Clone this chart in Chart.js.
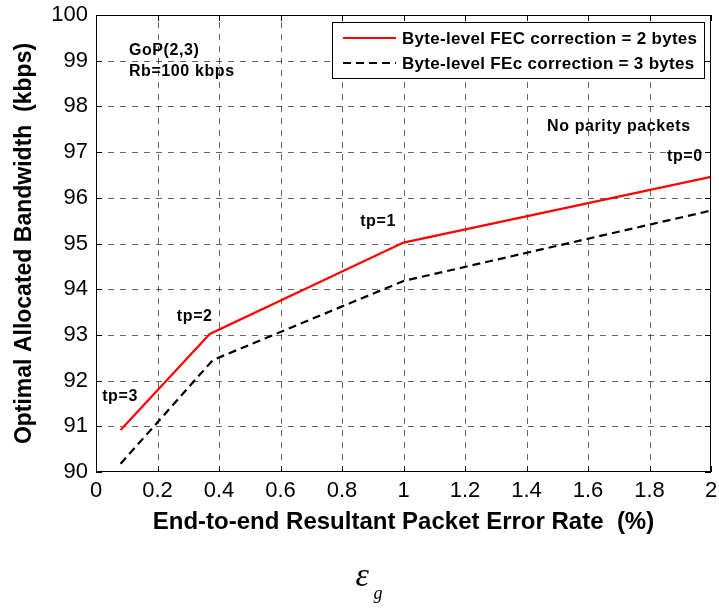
<!DOCTYPE html>
<html>
<head>
<meta charset="utf-8">
<script src="https://cdn.jsdelivr.net/npm/chart.js@4.4.1/dist/chart.umd.min.js"></script>
<style>
  html, body { margin: 0; padding: 0; background: #fff; }
  canvas { display: block; }
</style>
</head>
<body>
<canvas id="chart" width="719" height="608"></canvas>
<script>
// tick labels
const xTicks = [0, 0.2, 0.4, 0.6, 0.8, 1, 1.2, 1.4, 1.6, 1.8, 2];
const yTicks = [90, 91, 92, 93, 94, 95, 96, 97, 98, 99, 100];

// series
const xFec2 = [0.08, 0.37, 1, 2];
const yFec2 = [90.92, 93.02, 95.02, 96.46];
const xFec3 = [0.08, 0.38, 1, 2];
const yFec3 = [90.18, 92.45, 94.18, 95.72];

const seriesLabels = ['Byte-level FEC correction = 2 bytes', 'Byte-level FEc correction = 3 bytes'];

// text notes inside the axes, anchored at data coords (left edge, vertical middle)
const notes = [
  { text: 'GoP(2,3)', x: 0.107, y: 99.23 },
  { text: 'Rb=100 kbps', x: 0.107, y: 98.76 },
  { text: 'No parity packets', x: 1.467, y: 97.55 },
  { text: 'tp=0', x: 1.857, y: 96.91 },
  { text: 'tp=1', x: 0.859, y: 95.47 },
  { text: 'tp=2', x: 0.263, y: 93.40 },
  { text: 'tp=3', x: 0.02, y: 91.66 }
];

const toPoints = (xs, ys) => xs.map((x, i) => ({ x: x, y: ys[i] }));

const SANS = '"Liberation Sans", Arial, Helvetica, sans-serif';

const framePlugin = {
  id: 'frame',
  beforeDatasetsDraw(chart) {
    // dashed grid, matlab style
    const { ctx, chartArea: a, scales } = chart;
    ctx.save();
    ctx.strokeStyle = 'rgba(0,0,0,0.6)';
    ctx.lineWidth = 1;
    ctx.setLineDash([6, 6]);
    ctx.beginPath();
    xTicks.slice(1, -1).forEach(v => {
      const px = Math.round(scales.x.getPixelForValue(v)) + 0.5;
      ctx.moveTo(px, a.bottom); ctx.lineTo(px, a.top);
    });
    yTicks.slice(1, -1).forEach(v => {
      const py = Math.round(scales.y.getPixelForValue(v)) + 0.5;
      ctx.moveTo(a.left, py); ctx.lineTo(a.right, py);
    });
    ctx.stroke();
    ctx.restore();
  },
  afterDatasetsDraw(chart) {
    const { ctx, chartArea: a, scales } = chart;
    ctx.save();
    ctx.strokeStyle = '#000';
    ctx.lineWidth = 1;
    ctx.setLineDash([]);
    ctx.strokeRect(a.left + 0.5, a.top + 0.5, a.right - a.left - 1, a.bottom - a.top - 1);
    // inward ticks on all four sides
    const tl = 6;
    ctx.beginPath();
    xTicks.forEach(v => {
      const px = Math.round(scales.x.getPixelForValue(v)) + 0.5;
      ctx.moveTo(px, a.bottom); ctx.lineTo(px, a.bottom - tl);
      ctx.moveTo(px, a.top); ctx.lineTo(px, a.top + tl);
    });
    yTicks.forEach(v => {
      const py = Math.round(scales.y.getPixelForValue(v)) + 0.5;
      ctx.moveTo(a.left, py); ctx.lineTo(a.left + tl, py);
      ctx.moveTo(a.right, py); ctx.lineTo(a.right - tl, py);
    });
    ctx.stroke();
    ctx.restore();
  },
  afterDraw(chart) {
    const { ctx, chartArea: a, scales } = chart;
    ctx.save();
    ctx.fillStyle = '#000';
    ctx.textBaseline = 'middle';
    ctx.textAlign = 'left';
    ctx.font = 'bold 16px ' + SANS;
    ctx.letterSpacing = '0.6px';
    notes.forEach(n => {
      ctx.fillText(n.text, scales.x.getPixelForValue(n.x), scales.y.getPixelForValue(n.y));
    });

    // legend box (top right)
    const bw = 372, bh = 56;
    const bx = a.right - 7 - bw, by = a.top + 7;
    ctx.fillStyle = '#fff';
    ctx.fillRect(bx, by, bw, bh);
    ctx.strokeStyle = '#000';
    ctx.lineWidth = 1;
    ctx.strokeRect(bx + 0.5, by + 0.5, bw, bh);
    ctx.font = 'bold 17px ' + SANS;
    ctx.letterSpacing = '0.3px';
    chart.data.datasets.forEach((ds, i) => {
      const ly = by + 16 + i * 25;
      ctx.strokeStyle = ds.borderColor;
      ctx.lineWidth = ds.borderWidth;
      ctx.setLineDash(ds.borderDash || []);
      ctx.beginPath();
      ctx.moveTo(bx + 11, ly); ctx.lineTo(bx + 64, ly);
      ctx.stroke();
      ctx.setLineDash([]);
      ctx.fillStyle = '#000';
      ctx.fillText(ds.label, bx + 70, ly + 1);
    });

    // symbol under the x axis title
    ctx.letterSpacing = '0px';
    const ex = scales.x.getPixelForValue(1) - 48;
    ctx.font = 'italic 34px "Liberation Serif", "DejaVu Serif", serif';
    ctx.fillText('\u03B5', ex, 577);
    ctx.font = 'italic 18px "Liberation Serif", "DejaVu Serif", serif';
    ctx.fillText('g', ex + 18, 594);
    ctx.restore();
  }
};

new Chart(document.getElementById('chart'), {
  type: 'line',
  data: {
    datasets: [
      {
        label: seriesLabels[0],
        data: toPoints(xFec2, yFec2),
        borderColor: '#ff0000',
        borderWidth: 2.2,
        pointRadius: 0,
        fill: false,
        tension: 0
      },
      {
        label: seriesLabels[1],
        data: toPoints(xFec3, yFec3),
        borderColor: '#000000',
        borderWidth: 2.2,
        borderDash: [8, 5],
        pointRadius: 0,
        fill: false,
        tension: 0
      }
    ]
  },
  options: {
    responsive: false,
    animation: false,
    layout: { padding: { top: 15, right: 8, left: 0, bottom: 0 } },
    plugins: { legend: { display: false }, tooltip: { enabled: false } },
    scales: {
      x: {
        type: 'linear',
        min: 0,
        max: 2,
        afterBuildTicks: s => { s.ticks = xTicks.map(v => ({ value: v })); },
        afterFit: s => { s.height = 136; s.paddingLeft = 0; s.paddingRight = 0; },
        ticks: {
          color: '#000',
          font: { family: SANS, size: 22 },
          padding: 6,
          maxRotation: 0,
          autoSkip: false,
          callback: v => String(v)
        },
        grid: { display: false, drawTicks: false },
        border: { display: false },
        title: {
          display: true,
          text: 'End-to-end Resultant Packet Error Rate  (%)',
          color: '#000',
          font: { family: SANS, size: 24, weight: 'bold' },
          padding: { top: 0, bottom: 71 }
        }
      },
      y: {
        type: 'linear',
        min: 90,
        max: 100,
        afterBuildTicks: s => { s.ticks = yTicks.map(v => ({ value: v })); },
        afterFit: s => { s.width = 96; s.paddingTop = 0; s.paddingBottom = 0; },
        ticks: {
          color: '#000',
          font: { family: SANS, size: 22 },
          padding: 8,
          autoSkip: false,
          callback: v => String(v)
        },
        grid: { display: false, drawTicks: false },
        border: { display: false },
        title: {
          display: true,
          text: 'Optimal Allocated Bandwidth  (kbps)',
          color: '#000',
          font: { family: SANS, size: 23, weight: 'bold' },
          padding: { top: 11, bottom: 0 }
        }
      }
    }
  },
  plugins: [framePlugin]
});
</script>
</body>
</html>
